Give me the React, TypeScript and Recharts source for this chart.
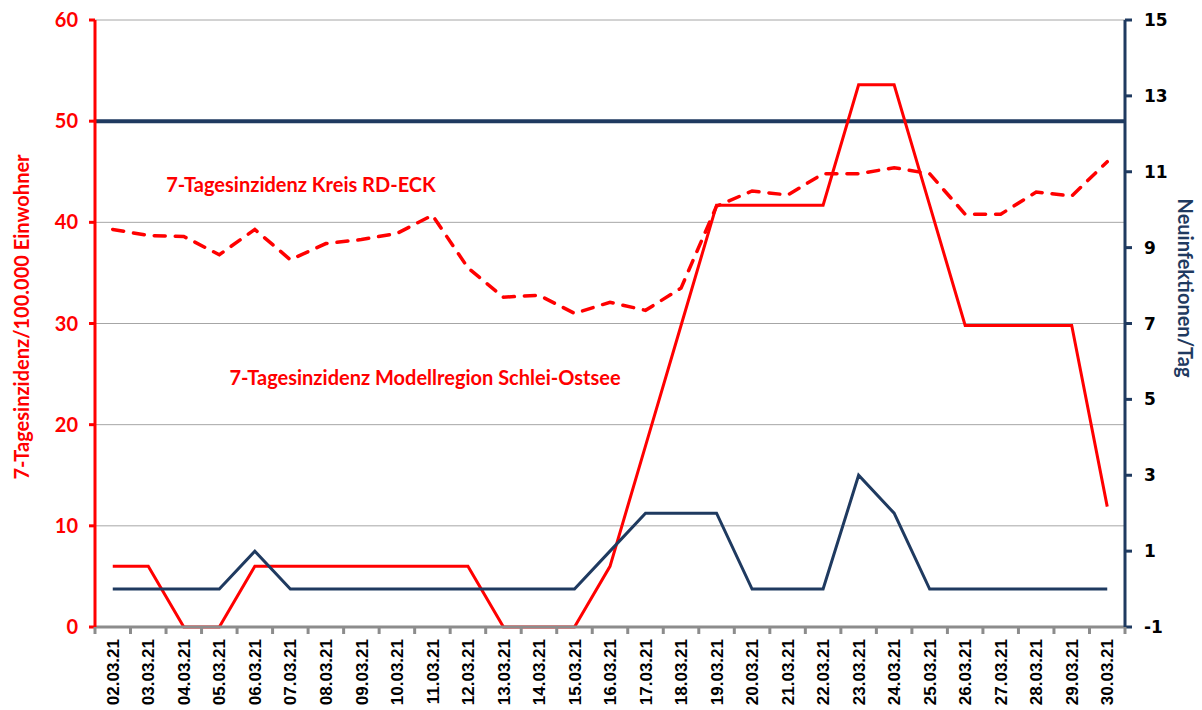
import React from "react";
import {
  LineChart,
  Line,
  XAxis,
  YAxis,
  CartesianGrid,
  ReferenceLine,
} from "recharts";

// categories: days of March 2021
const dates = [
  "02.03.21", "03.03.21", "04.03.21", "05.03.21", "06.03.21", "07.03.21",
  "08.03.21", "09.03.21", "10.03.21", "11.03.21", "12.03.21", "13.03.21",
  "14.03.21", "15.03.21", "16.03.21", "17.03.21", "18.03.21", "19.03.21",
  "20.03.21", "21.03.21", "22.03.21", "23.03.21", "24.03.21", "25.03.21",
  "26.03.21", "27.03.21", "28.03.21", "29.03.21", "30.03.21",
];

// 7-Tagesinzidenz Modellregion Schlei-Ostsee (left axis)
const modellregion = [
  6, 6, 0, 0, 6, 6, 6, 6, 6, 6, 6, 0, 0, 0, 6, 17.9, 29.8, 41.7, 41.7, 41.7,
  41.7, 53.6, 53.6, 41.7, 29.8, 29.8, 29.8, 29.8, 11.9,
];

// 7-Tagesinzidenz Kreis RD-ECK (left axis)
const kreis = [
  39.3, 38.7, 38.6, 36.8, 39.3, 36.3, 37.9, 38.3, 38.9, 40.7, 35.5, 32.6,
  32.8, 31.0, 32.1, 31.3, 33.5, 41.6, 43.1, 42.7, 44.8, 44.8, 45.4, 44.8,
  40.8, 40.8, 43.0, 42.6, 46.0,
];

// Neuinfektionen/Tag (right axis)
const neuinfektionen = [
  0, 0, 0, 0, 1, 0, 0, 0, 0, 0, 0, 0, 0, 0, 1, 2, 2, 2, 0, 0, 0, 3, 2, 0, 0,
  0, 0, 0, 0,
];

const leftTicks = [0, 10, 20, 30, 40, 50, 60];
const rightTicks = [-1, 1, 3, 5, 7, 9, 11, 13, 15];
const schwelle = 50;

const data = dates.map((d, i) => ({
  date: d,
  modell: modellregion[i],
  kreis: kreis[i],
  neu: neuinfektionen[i],
}));

const RED = "#FF0000";
const NAVY = "#1F3A60";
const GREY = "#8C8C8C";
const W = 1202;
const H = 710;
const PLOT_LEFT = 95;
const PLOT_RIGHT = 1125;
const BAND = (PLOT_RIGHT - PLOT_LEFT) / dates.length;

const DateTick = (props: any) => {
  const { x, y, payload, index } = props;
  return (
    <g>
      <line x1={x - BAND / 2} x2={x - BAND / 2} y1={y} y2={y + 7} stroke={GREY} strokeWidth={3} />
      {index === dates.length - 1 && (
        <line x1={x + BAND / 2} x2={x + BAND / 2} y1={y} y2={y + 7} stroke={GREY} strokeWidth={3} />
      )}
      <text
        transform={`translate(${x},${y + 12}) rotate(-90)`}
        textAnchor="end"
        dy="0.36em"
        fill="#000"
        fontSize={17}
        fontWeight="bold"
        fontFamily="'Liberation Sans', Arial, sans-serif"
      >
        {payload.value}
      </text>
    </g>
  );
};

export default function App() {
  const font = "Lato, 'Open Sans', sans-serif";
  return (
    <div style={{ position: "absolute", left: 0, top: 0, width: W, height: H, background: "#fff" }}>
      <LineChart width={W} height={H} data={data} margin={{ top: 20, right: 0, bottom: 0, left: 0 }}>
        <CartesianGrid yAxisId="left" vertical={false} stroke="#A6A6A6" strokeWidth={1} />
        <XAxis
          dataKey="date"
          scale="band"
          interval={0}
          height={83}
          tickLine={false}
          tickSize={0}
          tickMargin={0}
          axisLine={{ stroke: GREY, strokeWidth: 3 }}
          tick={<DateTick />}
        />
        <YAxis
          yAxisId="left"
          width={95}
          domain={[0, 60]}
          ticks={leftTicks}
          interval={0}
          axisLine={{ stroke: RED, strokeWidth: 3 }}
          tickLine={{ stroke: RED, strokeWidth: 3 }}
          tickSize={6}
          tickMargin={11}
          tick={{ fill: RED, fontSize: 20, fontWeight: "bold", fontFamily: font }}
        />
        <YAxis
          yAxisId="right"
          orientation="right"
          width={77}
          domain={[-1, 15]}
          ticks={rightTicks}
          interval={0}
          axisLine={{ stroke: NAVY, strokeWidth: 3 }}
          tickLine={{ stroke: NAVY, strokeWidth: 3 }}
          tickSize={7}
          tickMargin={12}
          tick={{ fill: "#000", fontSize: 17, fontWeight: "bold", fontFamily: "'DejaVu Sans', Verdana, sans-serif" }}
        />
        <ReferenceLine yAxisId="left" y={schwelle} stroke={NAVY} strokeWidth={4} />
        <Line
          yAxisId="left"
          dataKey="modell"
          stroke={RED}
          strokeWidth={3}
          dot={false}
          isAnimationActive={false}
        />
        <Line
          yAxisId="left"
          dataKey="kreis"
          stroke={RED}
          strokeWidth={3.5}
          strokeDasharray="11 10"
          strokeLinecap="round"
          dot={false}
          isAnimationActive={false}
        />
        <Line
          yAxisId="right"
          dataKey="neu"
          stroke={NAVY}
          strokeWidth={3}
          dot={false}
          isAnimationActive={false}
        />
      </LineChart>
      <svg
        width={W}
        height={H}
        style={{ position: "absolute", left: 0, top: 0, pointerEvents: "none" }}
      >
        <g fontFamily={font} fontWeight="bold" fontSize={20}>
          <text x={301} y={185} dy="0.35em" textAnchor="middle" fill={RED}>
            7-Tagesinzidenz Kreis RD-ECK
          </text>
          <text x={425} y={378} dy="0.35em" textAnchor="middle" fill={RED}>
            7-Tagesinzidenz Modellregion Schlei-Ostsee
          </text>
          <text transform="translate(22,317) rotate(-90)" dy="0.35em" textAnchor="middle" fill={RED}>
            7-Tagesinzidenz/100.000 Einwohner
          </text>
          <text transform="translate(1185,288) rotate(90)" dy="0.35em" textAnchor="middle" fill={NAVY}>
            Neuinfektionen/Tag
          </text>
        </g>
      </svg>
    </div>
  );
}
